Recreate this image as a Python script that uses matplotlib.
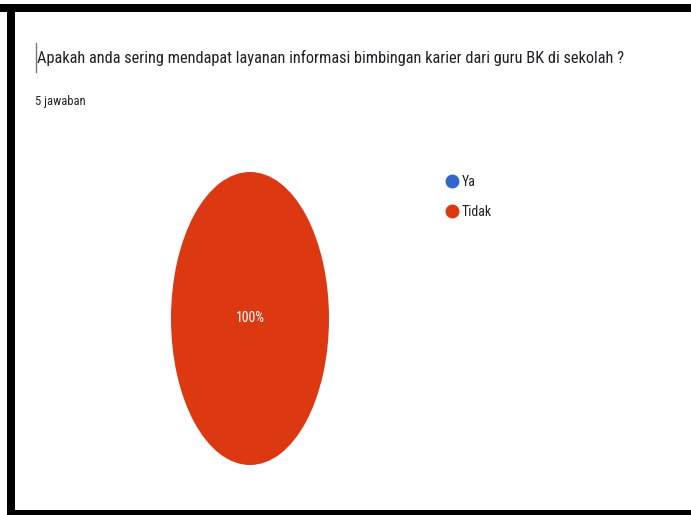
import matplotlib
matplotlib.use('Agg')
import matplotlib.pyplot as plt
from matplotlib.lines import Line2D
from matplotlib.patches import Rectangle

title = "Apakah anda sering mendapat layanan informasi bimbingan karier dari guru BK di sekolah ?"
subtitle = "5 jawaban"
labels = ["Ya", "Tidak"]
counts = [0, 5]
colors = ["#3366CC", "#DC3912"]

W, H = 691, 515
fig = plt.figure(figsize=(W / 100, H / 100), dpi=100)
fig.patch.set_facecolor('white')
font = 'Roboto Condensed'


def fx(px):
    return px / W


def fy(py):
    return 1 - py / H


# black frame left by the screenshot
fig.patches.append(Rectangle((fx(0), fy(12)), 1, 8 / H, transform=fig.transFigure,
                             facecolor='black', edgecolor='none'))
fig.patches.append(Rectangle((fx(7), 0), 8 / W, fy(4), transform=fig.transFigure,
                             facecolor='black', edgecolor='none'))
fig.patches.append(Rectangle((fx(7), 0), 1, 5 / H, transform=fig.transFigure,
                             facecolor='black', edgecolor='none'))

# text cursor in front of the question
fig.add_artist(Line2D([fx(36), fx(36)], [fy(72), fy(43)], transform=fig.transFigure,
                      color='#777777', lw=1))

fig.text(fx(37), fy(58), title, fontsize=11.8, family=font, color='#202124',
         va='center', ha='left')
fig.text(fx(35), fy(101), subtitle, fontsize=9, family=font, color='#202124',
         va='center', ha='left')

ax = fig.add_axes([fx(171), fy(465), 158 / W, 293 / H])
wedges, texts, autotexts = ax.pie(
    counts, colors=colors, startangle=90, counterclock=False,
    autopct=lambda p: f"{p:.0f}%" if p > 0 else "", pctdistance=0.0,
    textprops=dict(color='white', fontsize=10, family=font))
ax.set_xlim(-1, 1)
ax.set_ylim(-1, 1)
ax.set_aspect('auto')
ax.axis('off')

handles = [Line2D([], [], marker='o', linestyle='none', markersize=9,
                  markerfacecolor=c, markeredgecolor=c) for c in colors]
leg = fig.legend(handles, labels, loc='upper left',
                 bbox_to_anchor=(fx(438), fy(169)), frameon=False,
                 prop=dict(family=font, size=10), handletextpad=0.1,
                 labelspacing=1.15, handlelength=1.2, borderaxespad=0)
for t in leg.get_texts():
    t.set_color('#222222')

fig.savefig('out.png', dpi=100, facecolor='white')
